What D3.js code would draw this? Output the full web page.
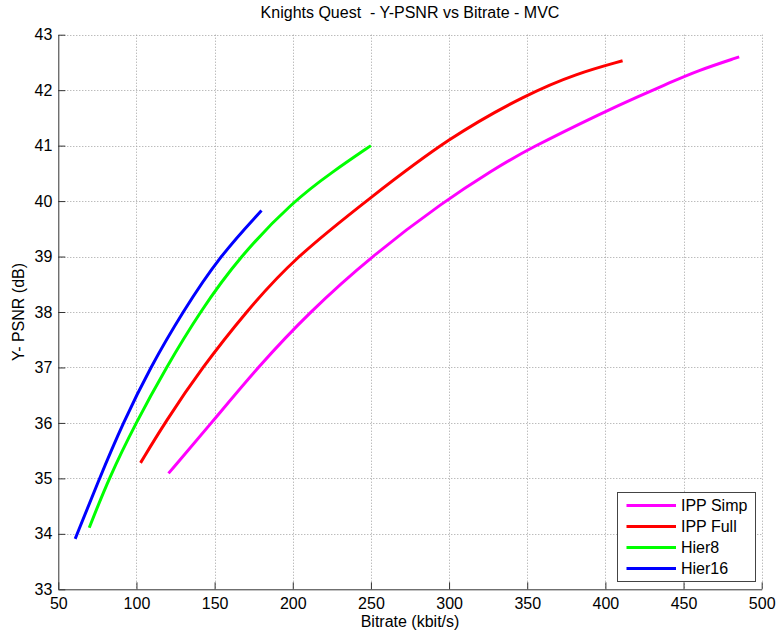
<!DOCTYPE html>
<html>
<head>
<meta charset="utf-8">
<script src="https://cdn.jsdelivr.net/npm/d3@7"></script>
<style>
body { margin:0; background:#fff; }
text { font-family:"Liberation Sans", Arial, sans-serif; fill:#000; }
</style>
</head>
<body>
<div id="chart"></div>
<script>
// values
var ippSimp = [[120.5,35.09],[148,36],[178,37.02],[210.7,38],[250,39],[297,40],[328,40.56],[350,40.93],[400,41.62],[422,41.9],[440,42.12],[458.7,42.35],[485.6,42.6]];
var ippFull = [[102.6,35.28],[118,36],[142,37],[170,38],[200,38.95],[250,40.07],[300,41.15],[350,41.93],[381.6,42.3],[411,42.53]];
var hier8   = [[69.8,34.11],[82.3,35],[99.6,36],[119,37],[140.5,38],[166,39],[200.4,40],[225,40.52],[250,41.0]];
var hier16  = [[60.8,33.91],[76.3,35],[91.4,36],[108.8,37],[129.5,38],[153,39],[180,39.83]];
var seriesNames = ['IPP Simp','IPP Full','Hier8','Hier16'];
var seriesColors = ['#ff00ff','#ff0000','#00ff00','#0000ff'];
var xTicks = [50,100,150,200,250,300,350,400,450,500];
var yTicks = [33,34,35,36,37,38,39,40,41,42,43];

var W = 779, H = 636;
var pL = 58.3, pR = 761.7, pT = 34.7, pB = 589.3;

var svg = d3.select('#chart').append('svg').attr('width',W).attr('height',H);

var x = d3.scaleLinear().domain([50,500]).range([pL,pR]);
var y = d3.scaleLinear().domain([33,43]).range([pB,pT]);

// grid
var grid = svg.append('g').attr('stroke','#a0a0a0').attr('stroke-width',1).attr('stroke-dasharray','1,2');
grid.selectAll('.gx').data(xTicks.slice(1)).enter().append('line')
    .attr('x1',d=>Math.round(x(d))+0.5).attr('x2',d=>Math.round(x(d))+0.5)
    .attr('y1',pT).attr('y2',pB);
grid.selectAll('.gy').data(yTicks.slice(1)).enter().append('line')
    .attr('y1',d=>Math.round(y(d))+0.5).attr('y2',d=>Math.round(y(d))+0.5)
    .attr('x1',pL).attr('x2',pR);

// axes
var xAxis = svg.append('g').attr('transform','translate(0,'+pB+')')
    .call(d3.axisBottom(x).tickValues(xTicks).tickSizeInner(-7).tickSizeOuter(0).tickPadding(8));
var yAxis = svg.append('g').attr('transform','translate('+pL+',0)')
    .call(d3.axisLeft(y).tickValues(yTicks).tickSizeInner(-7).tickSizeOuter(0).tickPadding(6));
[xAxis,yAxis].forEach(function(a) {
    a.select('.domain').attr('stroke','#333');
    a.selectAll('.tick line').attr('stroke','#333');
    a.selectAll('text').style('font-size','16px').attr('fill','#000')
        .style('font-family','"Liberation Sans", Arial, sans-serif');
});

// curves
var line = d3.line().x(d=>x(d[0])).y(d=>y(d[1])).curve(d3.curveBasis);
var allSeries = [ippSimp, ippFull, hier8, hier16];
svg.append('g').selectAll('path').data(allSeries).enter().append('path')
    .attr('d',line).attr('fill','none')
    .attr('stroke',(d,i)=>seriesColors[i]).attr('stroke-width',3)
    .attr('stroke-linecap','butt').attr('stroke-linejoin','round');

// title and labels
svg.append('text').attr('x',(pL+pR)/2).attr('y',18).attr('text-anchor','middle')
    .style('font-size','16px').style('white-space','pre').text('Knights Quest  - Y-PSNR vs Bitrate - MVC');
svg.append('text').attr('x',(pL+pR)/2).attr('y',627).attr('text-anchor','middle')
    .style('font-size','16px').text('Bitrate (kbit/s)');
svg.append('text').attr('transform','translate(24,'+((pT+pB)/2)+') rotate(-90)')
    .attr('text-anchor','middle').style('font-size','16px').text('Y- PSNR (dB)');

// legend
var lg = svg.append('g').attr('transform','translate(617.5,492.5)');
lg.append('rect').attr('width',138).attr('height',89).attr('fill','#fff').attr('stroke','#444');
var items = lg.selectAll('.item').data(seriesNames).enter().append('g')
    .attr('transform',(d,i)=>'translate(0,'+(13+i*21)+')');
items.append('line').attr('x1',9).attr('x2',58.5).attr('y1',0).attr('y2',0)
    .attr('stroke',(d,i)=>seriesColors[i]).attr('stroke-width',3);
items.append('text').attr('x',63.5).attr('y',5.5).style('font-size','16px').text(d=>d);
</script>
</body>
</html>
